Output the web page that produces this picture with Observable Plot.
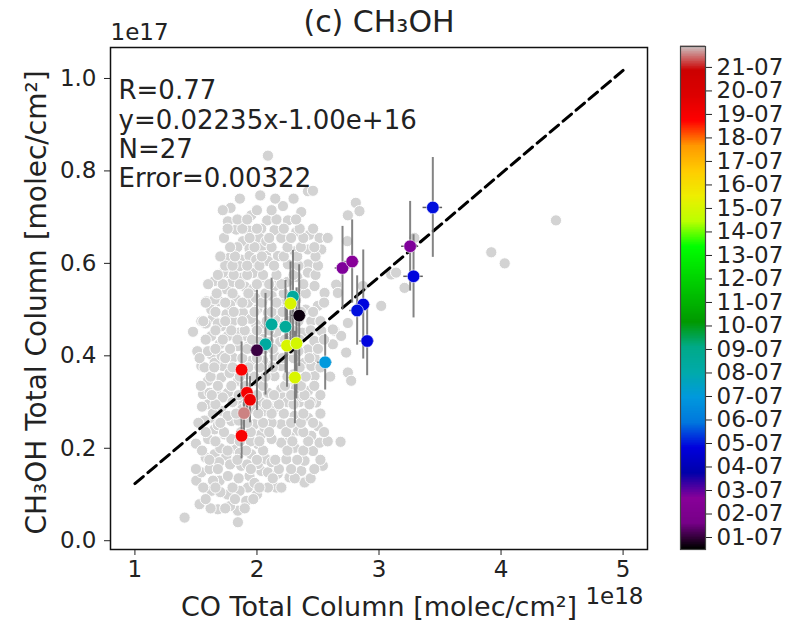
<!DOCTYPE html>
<html><head><meta charset="utf-8">
<script src="https://cdn.jsdelivr.net/npm/d3@7"></script>
<script src="https://cdn.jsdelivr.net/npm/@observablehq/plot@0.6"></script>
<style>
body{margin:0;background:#fff;}
#wrap{position:relative;width:794px;height:620px;font-family:"DejaVu Sans",sans-serif;overflow:hidden;}
#main{position:absolute;left:0;top:0;}
#cbar{position:absolute;left:660px;top:0;}
</style></head><body><div id="wrap"><div id="main"></div><div id="cbar"></div></div>
<script>
// Background (all data) points: CO [1e18 molec/cm2], CH3OH [1e17 molec/cm2]
const bgCO = [2.09,2.027,1.784,1.953,1.762,2.084,1.83,1.931,2.035,2.021,1.885,1.839,1.939,2.035,1.775,1.871,1.939,1.994,2.076,1.858,1.98,1.762,
2.213,2.363,2.418,2.459,2.254,2.144,2.322,2.431,2.513,2.199,2.076,2.418,2.527,2.308,2.172,2.09,2.254,2.418,
2.81,2.84,2.745,2.74,3.018,3.10,3.14,3.209,3.29,2.636,2.69,2.527,2.745,4.45,3.92,4.03,
2.472,2.731,2.772,2.622,2.472,2.868,2.649,2.554,2.472,2.418,2.499,2.445,2.404,2.418,2.39,2.418,2.144,2.185,2.09,2.158,2.144,2.09,2.199,2.144,2.199,2.09,2.445,2.47,2.663,2.745,2.622,
1.476,1.511,1.653,1.871,1.694,1.749,1.83,1.926,1.64,1.708,1.803,1.885,1.626,1.694,1.762,1.844,1.721,1.803,1.708,1.776,1.599,1.558,1.667,1.762,1.994,1.967,2.035,1.585,1.544,1.953,1.912,1.953,1.846,1.626,1.544,1.599,1.653,1.653,1.626,
1.72,1.80,1.90,1.97,2.05,2.00,1.75,1.95,2.04,2.25,2.33,2.36,2.30,2.40,2.22,2.19,2.28,2.26,2.34,2.37,2.27,2.35,2.30,1.92,2.00,2.05,2.02,2.17,2.03,1.88,1.71,1.68,1.78,1.58,1.85,1.93,2.10,2.06,2.15,2.24,2.12,1.99,2.32,
1.407,1.503,1.544,1.53,1.626,1.68,1.844,1.844,1.912,1.694,1.762,1.612,1.926,1.939,1.871,1.749,1.653,1.653,1.735,1.653,1.626,1.708,1.599,1.612,1.79,1.98,2.035,2.008,1.953,2.062,2.035,1.83,1.98,2.062,1.858,2.008,
1.70,1.79,1.87,1.95,1.72,1.80,1.88,1.69,1.78,1.86,1.92,1.98,1.58,1.60,1.57,1.55,1.68,1.76,1.85,2.00,1.76,1.70,1.78,1.64,1.50,
2.485,2.685,2.54,2.39,2.158,2.09,2.267,2.363,2.09,2.076,2.24,2.39,2.459,2.308,2.199,2.513,2.445,2.336,2.199,2.062,2.499,2.418,2.308,2.144,2.213,2.377,
2.12,2.27,2.25,2.12,2.32,2.44,2.12,2.17,
1.62,1.74,1.90, 1.58,1.82,1.97, 1.56,1.66,1.80,2.02,2.20, 1.85,2.13,2.31,2.44, 1.50,1.68,1.95,2.18,2.28,2.47,
1.61,1.84,2.00,2.15,2.33,2.52, 1.55,1.76,1.91,2.05,2.25,2.38, 1.66,1.86,2.02,2.29,2.42,2.58, 1.58,1.73,1.95,2.10,2.24,2.38,2.55,
1.52,1.70,1.92,2.05,2.28,2.36,2.46, 1.64,1.83,1.90,2.01,2.12,2.22,2.38,2.52, 1.66,1.92,2.08,2.18,2.30,2.43, 1.63,1.85,2.00,2.14,2.28,2.39,2.52,
1.54,1.68,1.79,1.90,2.05,2.23,2.36,2.47, 1.62,1.86,1.98,2.07,2.25,2.40,2.60, 1.57,1.65,1.80,1.93,2.02,2.13,2.35,2.52, 1.53,1.74,1.88,2.00,2.21,2.30,2.43,
1.66,1.78,1.92,2.06,2.13,2.28,2.50, 1.58,1.72,1.84,1.96,2.23,2.35,2.55, 1.66,1.79,1.90,2.00,2.10,2.30,2.44, 1.56,1.74,1.88,2.08,2.26,2.34,2.52,
1.66,1.81,1.98,2.12,2.21,2.36,2.46, 1.58,1.74,1.88,2.04,2.16,2.30,2.55, 1.67,1.80,1.93,2.07,2.22,2.40, 1.60,1.72,1.86,2.00,2.10,2.20,2.38,
1.68,1.81,1.92,2.05,2.16,2.30,2.48, 1.74,1.80,1.92,2.02,2.14,2.34,2.50, 1.70,1.82,2.04,2.22,2.33,2.48, 1.78,1.98,2.12,2.25,2.36,2.47,
1.73,1.94,2.10,2.28,2.38,2.58, 1.76,1.88,2.00,2.22,2.35,2.46, 1.84,1.92,2.16,2.32, 1.72,2.00,2.12, 1.86,2.15,2.30];
const bgCH3OH = [.833,.747,.72,.704,.691,.693,.673,.671,.675,.655,.648,.635,.632,.633,.612,.608,.616,.608,.616,.594,.587,.579,
.724,.711,.756,.757,.693,.672,.668,.662,.655,.655,.648,.63,.63,.626,.616,.605,.598,.598,
.731,.713,.704,.648,.508,.576,.58,.547,.655,.454,.443,.454,.364,.693,.624,.60,
.396,.407,.346,.457,.356,.551,.554,.536,.551,.58,.508,.475,.45,.414,.385,.324,.551,.508,.493,.45,.40,.378,.378,.356,.328,.32,.378,.432,.536,.471,.425,
.452,.41,.562,.569,.518,.544,.522,.515,.482,.464,.475,.493,.403,.425,.443,.421,.378,.396,.353,.363,.346,.317,.32,.32,.468,.579,.562,.518,.475,.54,.443,.389,.346,.443,.378,.41,.385,.522,.50,
.58,.56,.55,.545,.52,.50,.49,.48,.445,.56,.57,.54,.49,.50,.47,.43,.44,.40,.41,.45,.33,.30,.36,.36,.345,.39,.43,.30,.30,.30,.40,.47,.51,.47,.45,.42,.43,.46,.48,.52,.53,.525,.52,
.05,.13,.148,.079,.108,.068,.065,.04,.086,.13,.14,.155,.115,.14,.162,.184,.187,.216,.23,.241,.266,.281,.295,.32,.259,.252,.23,.209,.187,.18,.151,.198,.284,.281,.108,.166,
.20,.22,.235,.215,.31,.30,.285,.17,.165,.19,.165,.125,.18,.22,.26,.29,.25,.27,.26,.10,.10,.105,.075,.13,.21,
.299,.214,.162,.126,.115,.115,.137,.151,.148,.176,.176,.173,.194,.201,.212,.212,.227,.238,.252,.245,.248,.266,.27,.288,.31,.313,
.22,.225,.30,.255,.33,.30,.17,.145,
.07,.07,.07, .09,.09,.09, .115,.115,.115,.115,.115, .135,.135,.135,.135, .155,.155,.155,.155,.155,.155,
.175,.175,.175,.175,.175,.175, .195,.195,.195,.195,.195,.195, .215,.215,.215,.215,.215,.215, .235,.235,.235,.235,.235,.235,.235,
.255,.255,.255,.255,.255,.255,.255, .275,.275,.275,.275,.275,.275,.275,.275, .295,.295,.295,.295,.295,.295, .315,.315,.315,.315,.315,.315,.315,
.335,.335,.335,.335,.335,.335,.335,.335, .355,.355,.355,.355,.355,.355,.355, .375,.375,.375,.375,.375,.375,.375,.375, .395,.395,.395,.395,.395,.395,.395,
.415,.415,.415,.415,.415,.415,.415, .435,.435,.435,.435,.435,.435,.435, .455,.455,.455,.455,.455,.455,.455, .475,.475,.475,.475,.475,.475,.475,
.495,.495,.495,.495,.495,.495,.495, .515,.515,.515,.515,.515,.515,.515, .535,.535,.535,.535,.535,.535, .555,.555,.555,.555,.555,.555,.555,
.575,.575,.575,.575,.575,.575,.575, .595,.595,.595,.595,.595,.595,.595, .615,.615,.615,.615,.615,.615, .635,.635,.635,.635,.635,.635,
.655,.655,.655,.655,.655,.655, .675,.675,.675,.675,.675,.675, .695,.695,.695,.695, .715,.715,.715, .74,.74,.74];

// Co-located observations (colored by date in July)
const obsCO    = [2.295,2.275,2.346,2.120,2.234,2.070,2.000,2.246,2.324,2.559,2.311,1.874,1.918,1.943,1.894,1.874,2.701,2.780,3.441,3.255,3.283,2.871,2.821,2.903];
const obsCH3OH = [0.528,0.513,0.487,0.468,0.463,0.425,0.412,0.422,0.427,0.386,0.353,0.370,0.320,0.305,0.276,0.227,0.590,0.604,0.721,0.637,0.572,0.511,0.498,0.432];
const obsErr   = [0.10,0.09,0.11,0.10,0.10,0.11,0.13,0.09,0.12,0.06,0.10,0.06,0.05,0.05,0.05,0.05,0.09,0.09,0.108,0.097,0.09,0.118,0.075,0.075];
const obsCOErr = [0.05,0.05,0.06,0.05,0.05,0.05,0.05,0.05,0.05,0.06,0.05,0.04,0.04,0.04,0.04,0.04,0.06,0.06,0.08,0.07,0.08,0.06,0.06,0.06];
const obsDay   = [8.4,15.0,0.6,8.4,8.5,8.3,1.0,15.0,14.9,6.9,15.0,18.8,19.0,19.2,21.5,18.9,2.7,2.6,4.9,2.7,4.8,4.8,4.9,4.8];

// Linear fit (molec/cm2): y = slope * x + intercept
const fitSlope = 0.02235, fitIntercept = -1.00e16;
const fitX = [1, 5];
const statsLines = ["R=0.77", "y=0.02235x-1.00e+16", "N=27", "Error=0.00322"];

const xTicks = [1, 2, 3, 4, 5];
const yTicks = [0, 0.2, 0.4, 0.6, 0.8, 1.0];
const dayValues = [1,2,3,4,5,6,7,8,9,10,11,12,13,14,15,16,17,18,19,20,21];
const dayLabels = ["01-07","02-07","03-07","04-07","05-07","06-07","07-07","08-07","09-07","10-07","11-07","12-07","13-07","14-07","15-07","16-07","17-07","18-07","19-07","20-07","21-07"];
const dayMin = 0.49, dayMax = 21.89;

// nipy_spectral colormap control colors (21 evenly spaced stops)
const nipyColors = ["#000000","#770088","#880099","#0000aa","#0000dd","#0077dd","#0099dd","#00aaaa","#00aa88","#009900","#00bb00","#00dd00","#00ff00","#bbff00","#eeee00","#ffcc00","#ff9900","#ff0000","#dd0000","#cc0000","#cccccc"];
const colorStops = nipyColors.map((c, i) => dayMin + (dayMax - dayMin) * i / (nipyColors.length - 1));
const colorScale = {type: "linear", domain: colorStops, range: nipyColors, interpolate: "rgb"};

const bg = bgCO.map((x, i) => ({co: x, ch: bgCH3OH[i]}));
const obs = obsCO.map((x, i) => ({co: x, ch: obsCH3OH[i], err: obsErr[i], xerr: obsCOErr[i], day: obsDay[i]}));
const fitLine = fitX.map(x => ({x, y: (fitSlope * x * 1e18 + fitIntercept) / 1e17}));

const font = "DejaVu Sans";
const main = Plot.plot({
  width: 660, height: 620,
  marginLeft: 110, marginRight: 13, marginTop: 47, marginBottom: 71,
  style: {fontFamily: font, fontSize: "23px", color: "#222", background: "transparent", overflow: "visible"},
  x: {domain: [0.8, 5.2], ticks: xTicks, tickFormat: d => String(d), tickSize: 6, tickPadding: 5, label: null},
  y: {domain: [-0.019, 1.067], ticks: yTicks, tickFormat: d => d.toFixed(1), tickSize: 6, tickPadding: 8, label: null},
  color: colorScale,
  marks: [
    Plot.dot(bg, {x: "co", y: "ch", r: 5.6, fill: "#d3d3d3", stroke: "white", strokeWidth: 1}),
    Plot.line(fitLine, {x: "x", y: "y", stroke: "black", strokeWidth: 3, strokeDasharray: "11,6"}),
    Plot.ruleX(obs, {x: "co", y1: d => d.ch - d.err, y2: d => d.ch + d.err, stroke: "#6e6e6e", strokeWidth: 2, strokeOpacity: 0.85}),
    Plot.ruleY(obs, {y: "ch", x1: d => d.co - d.xerr, x2: d => d.co + d.xerr, stroke: "#333", strokeWidth: 1.5, strokeOpacity: 0.8}),
    Plot.dot(obs, {x: "co", y: "ch", r: 6.3, fill: "day", stroke: "white", strokeWidth: 0.6}),
    Plot.frame({stroke: "#111", strokeWidth: 1.5}),
    Plot.text([statsLines.join("\n")], {frameAnchor: "top-left", dx: 8, dy: 31, lineAnchor: "top", textAnchor: "start", fontSize: 26, lineHeight: 1.13, fill: "#222"}),
    Plot.text(["(c) CH₃OH"], {frameAnchor: "top", dy: -25, lineAnchor: "middle", textAnchor: "middle", fontSize: 30, fill: "#222"}),
    Plot.text(["1e17"], {frameAnchor: "top-left", dy: -8, lineAnchor: "bottom", textAnchor: "start", fontSize: 23, fill: "#222"}),
    Plot.text(["1e18"], {frameAnchor: "bottom-right", dx: -4, dy: 54, lineAnchor: "bottom", textAnchor: "end", fontSize: 23, fill: "#222"}),
    Plot.text(["CO Total Column [molec/cm²]"], {frameAnchor: "bottom", dy: 66, lineAnchor: "bottom", textAnchor: "middle", fontSize: 27, fill: "#222"}),
    Plot.text(["CH₃OH Total Column [molec/cm²]"], {frameAnchor: "left", dx: -73, dy: 4, rotate: -90, lineAnchor: "middle", textAnchor: "middle", fontSize: 28, fill: "#222"})
  ]
});
document.getElementById("main").appendChild(main);

const nSteps = 300;
const steps = Array.from({length: nSteps}, (_, i) => dayMin + (dayMax - dayMin) * i / nSteps);
const dv = (dayMax - dayMin) / nSteps;
const cbar = Plot.plot({
  width: 134, height: 620,
  marginLeft: 20, marginRight: 89, marginTop: 46, marginBottom: 71,
  style: {fontFamily: font, fontSize: "23px", color: "#222", background: "transparent", overflow: "visible"},
  x: {domain: [0, 1], axis: null},
  y: {domain: [dayMin, dayMax], ticks: dayValues, tickFormat: d => dayLabels[dayValues.indexOf(d)], axis: "right", tickSize: 6, tickPadding: 5, label: null},
  color: colorScale,
  marks: [
    Plot.rect(steps, {x1: 0, x2: 1, y1: d => d, y2: d => d + dv * 1.6, fill: d => d}),
    Plot.frame({stroke: "#444", strokeWidth: 1.2})
  ]
});
document.getElementById("cbar").appendChild(cbar);
</script></body></html>
